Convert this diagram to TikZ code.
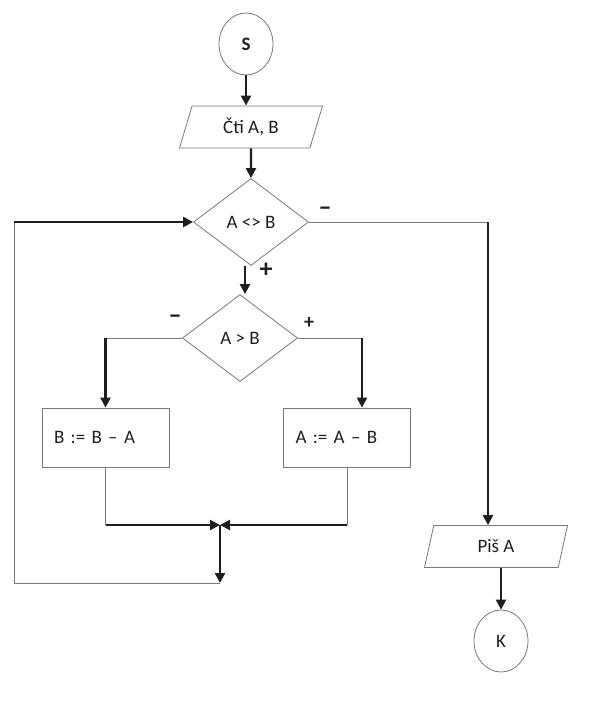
\documentclass[tikz,border=0pt]{standalone}
\usepackage{fontspec}
\setmainfont{Carlito}
\usetikzlibrary{
  arrows.meta,
  positioning,
  shapes.geometric
}
\definecolor{edge}{RGB}{120,120,120}
\definecolor{ink}{RGB}{30,30,30}

\begin{document}
\begin{tikzpicture}[x=1pt, y=-1pt,
  every node/.style={font=\fontsize{19}{22}\selectfont, text=ink},
  terminal/.style={ellipse, draw=edge, line width=0.8pt, minimum width=54pt, minimum height=62pt, inner sep=0pt},
  iobox/.style={trapezium, trapezium left angle=55, trapezium right angle=125, trapezium stretches body,
    draw=edge, line width=0.8pt, minimum height=42pt, minimum width=143pt, inner sep=0pt},
  decision/.style={diamond, draw=edge, line width=0.8pt, minimum width=115pt, minimum height=87pt, inner sep=0pt},
  process/.style={rectangle, draw=edge, line width=0.8pt, minimum height=59pt, text width=103pt, inner xsep=12pt, align=left},
  flow/.style={-{Triangle[length=10pt,width=10pt]}, ink, line width=2.2pt},
  link/.style={edge, line width=0.9pt},
  sign/.style={font=\fontsize{26}{26}\selectfont\bfseries}]
  \useasboundingbox (0,0) rectangle (597,706);

  % shapes
  \node[terminal, font=\fontsize{19}{22}\selectfont\bfseries] (start) at (246,44) {S};
  \node[iobox] (read) at (251,127) {Čti A, B};
  \node[decision] (neq) at (251,222) {A <> B};
  \node[decision] (cmp) at (240,338) {A > B};
  \node[process] (subb) at (105.5,437.5) {B := B – A};
  \node[process] (suba) at (347,437.5) {A := A – B};
  \node[iobox] (write) at (496,546.5) {Piš A};
  \node[terminal] (stop) at (501,641) {K};

  % branch signs
  \node[sign] (neqno) at (325,211) {–};
  \node[sign] (neqyes) at (266,270) {+};
  \node[sign] (cmpno) at (175,319) {–};
  \node[sign, font=\fontsize{20}{20}\selectfont\bfseries] (cmpyes) at (309,323) {+};

  % turning points
  \coordinate (jn) at (220,525);
  \coordinate (lb) at (220,583);
  \coordinate (lc) at (14,583);
  \coordinate (rsplit) at (362,0);
  \coordinate (rturn) at (488,0);

  % main line
  \draw[flow] (start.south) -- (start.south |- read.north);
  \draw[flow] (read.south) -- (neq.north);
  \draw[flow] ([xshift=-6pt]neq.south) -- ([xshift=-6pt]neq.south |- cmp.north);

  % A > B branches
  \draw[link] (cmp.west) -- (subb.north |- cmp.west);
  \draw[flow] (subb.north |- cmp.west) -- (subb.north);
  \draw[link] (cmp.east) -- (rsplit |- cmp.east);
  \draw[flow] (rsplit |- cmp.east) -- (rsplit |- suba.north);

  % join and loop back
  \draw[link] (subb.south) -- (subb.south |- jn);
  \draw[flow] (subb.south |- jn) -- (jn);
  \draw[link] (suba.south) -- (suba.south |- jn);
  \draw[flow] (suba.south |- jn) -- (jn);
  \draw[flow] (jn) -- (lb);
  \draw[link] (lb) -- (lc) -- (lc |- neq.west);
  \draw[flow] (lc |- neq.west) -- (neq.west);

  % exit
  \draw[link] (neq.east) -- (rturn |- neq.east);
  \draw[flow] (rturn |- neq.east) -- (rturn |- write.north);
  \draw[flow] (stop.north |- write.south) -- (stop.north);
\end{tikzpicture}
\end{document}
